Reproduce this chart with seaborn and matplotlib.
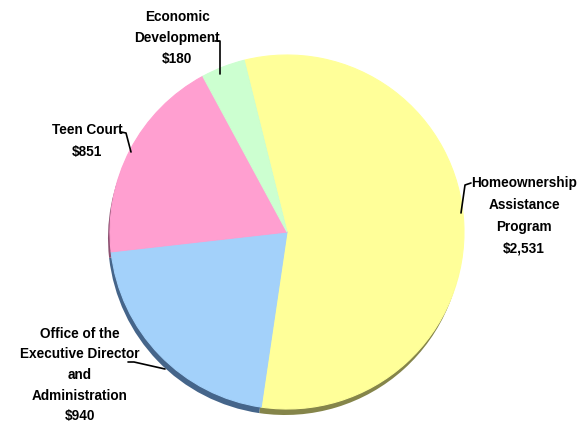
import matplotlib
matplotlib.use("Agg")
import matplotlib.pyplot as plt
import seaborn as sns
from matplotlib import font_manager

categories = ["Homeownership\nAssistance\nProgram", "Office of the\nExecutive Director\nand\nAdministration",
              "Teen Court", "Economic\nDevelopment"]
values = [2531, 940, 851, 180]
colors = ["#FFFF99", "#A3D1FA", "#FF9FD0", "#CCFFD0"]
shadow_colors = ["#85854A", "#45658A", "#8C5070", "#6A8C6A"]

sns.set_style("white")
names = {f.name for f in font_manager.fontManager.ttflist}
fam = "Liberation Sans Narrow" if "Liberation Sans Narrow" in names else "Liberation Sans"
plt.rcParams["font.family"] = [fam, "DejaVu Sans"]

fig = plt.figure(figsize=(5.79, 4.22), dpi=100)
ax = fig.add_axes([0, 0, 1, 1])

cx, cy, r = 287, 422 - 232, 177
# shadow
ax.pie(values, colors=shadow_colors, startangle=104, counterclock=False,
       center=(cx - 2, cy - 6), radius=r, frame=True,
       wedgeprops=dict(linewidth=0))
wedges, _ = ax.pie(values, colors=colors, startangle=104, counterclock=False,
                   center=(cx, cy), radius=r, frame=True,
                   wedgeprops=dict(linewidth=0.8))
for w, c in zip(wedges, colors):
    w.set_edgecolor(c)
ax.set_xlim(0, 579)
ax.set_ylim(0, 422)
ax.set_aspect("equal")
ax.axis("off")

labels = [f"{c}\n${v:,}" for c, v in zip(categories, values)]
text_pos = [(524, 422 - 216), (80, 422 - 375), (87, 422 - 141), (177, 422 - 38)]
spacings = [1.72, 1.6, 1.7, 1.6]
fs = 9.8
for lab, (tx, ty), ls in zip(labels, text_pos, spacings):
    ax.text(tx, ty, lab, ha="center", va="center", fontsize=fs, fontweight="bold",
            linespacing=ls, color="black")

def Y(y):
    return 422 - y

leaders = [
    [(471, 183), (465, 185), (461, 213)],
    [(128, 362), (134, 362), (165, 369)],
    [(121, 132), (126, 133), (131, 152)],
    [(215, 41), (220, 41), (220, 74)],
]
for pts in leaders:
    ax.plot([p[0] for p in pts], [Y(p[1]) for p in pts], color="black", lw=1.2)

fig.savefig("out.png", dpi=100)
